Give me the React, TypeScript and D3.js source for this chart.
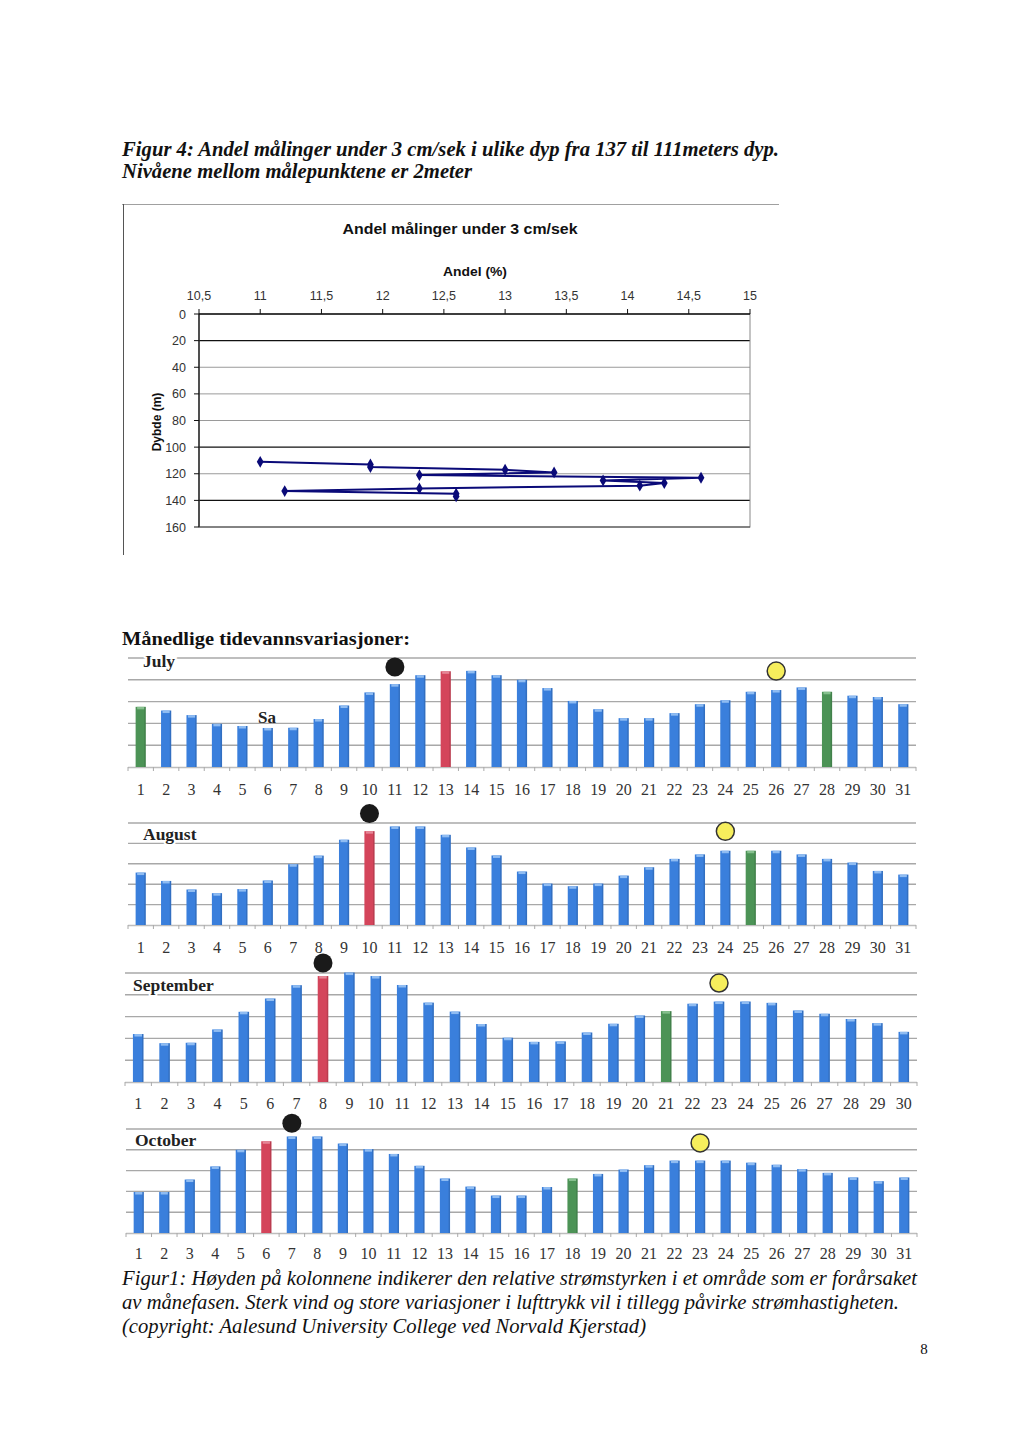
import React from "react";
import * as d3 from "d3";

// ---------- Figure 4 data ----------
const depthLevels = [111, 113, 115, 117, 119, 121, 123, 125, 127, 129, 131, 133, 135, 137];
const andelValues = [11.0, 11.9, 11.9, 13.0, 13.4, 12.3, 14.6, 13.8, 14.3, 14.1, 12.3, 11.2, 12.6, 12.6];
const xTicks = [10.5, 11, 11.5, 12, 12.5, 13, 13.5, 14, 14.5, 15];
const xTickLabels = ["10,5", "11", "11,5", "12", "12,5", "13", "13,5", "14", "14,5", "15"];
const yTicks = [0, 20, 40, 60, 80, 100, 120, 140, 160];
const darkGridLines = [20, 100, 140];

// ---------- Tide data (relative height, grid units 0..5) ----------
const julyValues = [2.76, 2.59, 2.38, 1.98, 1.88, 1.79, 1.8, 2.2, 2.82, 3.42, 3.8, 4.21, 4.39, 4.41, 4.21, 4.0, 3.62, 3.03, 2.65, 2.24, 2.24, 2.47, 2.88, 3.06, 3.45, 3.53, 3.65, 3.45, 3.27, 3.21, 2.88];
const augustValues = [2.57, 2.16, 1.74, 1.56, 1.76, 2.18, 2.98, 3.4, 4.18, 4.6, 4.83, 4.83, 4.42, 3.8, 3.41, 2.62, 2.03, 1.9, 2.03, 2.42, 2.83, 3.24, 3.46, 3.64, 3.64, 3.64, 3.46, 3.24, 3.06, 2.65, 2.47];
const septemberValues = [2.2, 1.78, 1.8, 2.41, 3.22, 3.83, 4.44, 4.86, 5.02, 4.86, 4.45, 3.64, 3.23, 2.66, 2.03, 1.84, 1.86, 2.27, 2.67, 3.05, 3.25, 3.59, 3.69, 3.69, 3.63, 3.28, 3.13, 2.89, 2.7, 2.3];
const octoberValues = [1.97, 1.97, 2.57, 3.2, 4.0, 4.41, 4.64, 4.64, 4.3, 4.03, 3.8, 3.23, 2.62, 2.23, 1.8, 1.8, 2.21, 2.62, 2.84, 3.05, 3.26, 3.48, 3.48, 3.48, 3.38, 3.28, 3.07, 2.89, 2.67, 2.49, 2.67];
const monthNames = ["July", "August", "September", "October"];
const redDays = [13, 10, 8, 6];
const greenDays = [[1, 28], [25], [21], [18]];
const blackMoonDays = [11, 10, 8, 7];
const blackMoonLevels = [4.59, 5.46, 5.46, 5.28];
const yellowMoonDays = [26, 24, 23, 23];
const yellowMoonLevels = [4.4, 4.59, 4.54, 4.33];
const gridLevels = [0, 1, 2, 3, 4, 5];

const monthValues = [julyValues, augustValues, septemberValues, octoberValues];

// layout of each panel
const panels = [
  { top: 658, base: 767, x0: 128, x1: 916, labelY: 795, nameX: 143, nameY: 667 },
  { top: 823, base: 925, x0: 128, x1: 916, labelY: 953, nameX: 143, nameY: 840 },
  { top: 973, base: 1082, x0: 125, x1: 917, labelY: 1109, nameX: 133, nameY: 991 },
  { top: 1129, base: 1233, x0: 126, x1: 917, labelY: 1259, nameX: 135, nameY: 1146 },
];

const SERIF = "'Liberation Serif', 'Times New Roman', serif";
const SANS = "'Liberation Sans', Arial, sans-serif";

function DepthChart() {
  const x = d3.scaleLinear().domain([10.5, 15]).range([199, 750]);
  const y = d3.scaleLinear().domain([0, 160]).range([314, 527]);
  const pts = depthLevels.map((d, i) => [andelValues[i], d] as [number, number]);
  const line = d3.line<[number, number]>().x((p) => x(p[0])).y((p) => y(p[1]));
  const diamond = d3.symbol().type(d3.symbolDiamond).size(40)();
  return (
    <g>
      <line x1={122} x2={779} y1={204.5} y2={204.5} stroke="#a0a0a0" strokeWidth={1} />
      <line x1={123.5} x2={123.5} y1={204} y2={555} stroke="#555" strokeWidth={1} />
      <text x={460} y={234} textAnchor="middle" fontFamily={SANS} fontWeight="bold" fontSize={15.5} fill="#111"
        textLength={235} lengthAdjust="spacingAndGlyphs">
        Andel målinger under 3 cm/sek
      </text>
      <text x={475} y={275.5} textAnchor="middle" fontFamily={SANS} fontWeight="bold" fontSize={13} fill="#111"
        textLength={64} lengthAdjust="spacingAndGlyphs">
        Andel (%)
      </text>
      <text transform="translate(161,422) rotate(-90)" textAnchor="middle" fontFamily={SANS} fontWeight="bold" fontSize={12} fill="#111">
        Dybde (m)
      </text>
      {yTicks.slice(1, -1).map((t) => (
        <line key={"g" + t} x1={199} x2={750} y1={y(t)} y2={y(t)}
          stroke={darkGridLines.includes(t) ? "#111" : "#9a9a9a"} strokeWidth={darkGridLines.includes(t) ? 1.3 : 1} />
      ))}
      <rect x={199} y={314} width={551} height={213} fill="none" stroke="#888" strokeWidth={1} />
      <line x1={199} x2={750} y1={314} y2={314} stroke="#111" strokeWidth={1.3} />
      <line x1={199} x2={199} y1={314} y2={527} stroke="#111" strokeWidth={1.3} />
      <line x1={199} x2={750} y1={527} y2={527} stroke="#444" strokeWidth={1.2} />
      {yTicks.map((t) => (
        <g key={"y" + t}>
          <line x1={194} x2={199} y1={y(t)} y2={y(t)} stroke="#111" />
          <text x={186} y={y(t) + 4.5} textAnchor="end" fontFamily={SANS} fontSize={12.5} fill="#333">{t}</text>
        </g>
      ))}
      {xTicks.map((t, i) => (
        <g key={"x" + t}>
          <line x1={x(t)} x2={x(t)} y1={309} y2={314} stroke="#111" />
          <text x={x(t)} y={299.5} textAnchor="middle" fontFamily={SANS} fontSize={12.5} fill="#333">{xTickLabels[i]}</text>
        </g>
      ))}
      <path d={line(pts) || ""} fill="none" stroke="#0a0a78" strokeWidth={2} />
      {pts.map((p, i) => (
        <path key={"m" + i} d={diamond || ""} transform={`translate(${x(p[0])},${y(p[1])})`} fill="#0a0a78" />
      ))}
    </g>
  );
}

function MonthPanel({ idx }: { idx: number }) {
  const p = panels[idx];
  const values = monthValues[idx];
  const days = values.map((_, i) => i + 1);
  const xb = d3.scaleBand<number>().domain(days).range([p.x0, p.x1]).paddingInner(0.6).paddingOuter(0.3);
  const yv = d3.scaleLinear().domain([0, 5]).range([p.base, p.top]);
  const step = xb.step();
  const bw = xb.bandwidth();
  const colorFor = (d: number) =>
    d === redDays[idx] ? "#d4455b" : greenDays[idx].includes(d) ? "#4c9356" : "#3a7fdc";
  const capFor = (d: number) =>
    d === redDays[idx] ? "#e58797" : greenDays[idx].includes(d) ? "#86c08e" : "#8fbcf2";
  const cx = (d: number) => (xb(d) as number) + bw / 2;
  return (
    <g>
      {gridLevels.slice(1).map((g) => (
        <line key={g} x1={p.x0} x2={p.x1} y1={yv(g)} y2={yv(g)} stroke="#a8a8a8" strokeWidth={1.4} />
      ))}
      <line x1={p.x0} x2={p.x1} y1={p.base + 0.5} y2={p.base + 0.5} stroke="#bdbdbd" strokeWidth={1.4} />
      {days.map((d) => (
        <line key={"t" + d} x1={(xb(d) as number) - (step - bw) / 2} x2={(xb(d) as number) - (step - bw) / 2}
          y1={p.base} y2={p.base + 4} stroke="#aaa" />
      ))}
      <line x1={p.x1} x2={p.x1} y1={p.base} y2={p.base + 4} stroke="#aaa" />
      {days.map((d, i) => (
        <g key={"b" + d}>
          <rect x={xb(d)} y={yv(values[i])} width={bw} height={p.base - yv(values[i])} fill={colorFor(d)} />
          <rect x={(xb(d) as number) + 1.5} y={yv(values[i])} width={bw - 3} height={2.5} fill={capFor(d)} />
          <rect x={(xb(d) as number) + bw - 1.5} y={yv(values[i])} width={1.5} height={p.base - yv(values[i])} fill="#000" opacity={0.12} />
        </g>
      ))}
      {days.map((d) => (
        <text key={"l" + d} x={cx(d)} y={p.labelY} textAnchor="middle" fontFamily={SERIF} fontSize={16} fill="#333">{d}</text>
      ))}
      <text x={p.nameX} y={p.nameY} fontFamily={SERIF} fontWeight="bold" fontSize={17.5} fill="#222"
        stroke="#fff" strokeWidth={4} paintOrder="stroke">{monthNames[idx]}</text>
      <circle cx={cx(blackMoonDays[idx])} cy={yv(blackMoonLevels[idx])} r={9.5} fill="#1a1a1a" />
      <circle cx={cx(yellowMoonDays[idx])} cy={yv(yellowMoonLevels[idx])} r={9} fill="#f6ee5c" stroke="#333" strokeWidth={1.5} />
    </g>
  );
}

export default function App() {
  return (
    <svg width={1024} height={1448} style={{ position: "absolute", left: 0, top: 0, background: "#fff" }}>
      <rect width={1024} height={1448} fill="#fff" />
      <text x={122} y={156} fontFamily={SERIF} fontWeight="bold" fontStyle="italic" fontSize={20.5} fill="#111"
        textLength={657} lengthAdjust="spacingAndGlyphs">
        Figur 4: Andel målinger under 3 cm/sek i ulike dyp fra 137 til 111meters dyp.
      </text>
      <text x={122} y={177.5} fontFamily={SERIF} fontWeight="bold" fontStyle="italic" fontSize={20.5} fill="#111"
        textLength={350} lengthAdjust="spacingAndGlyphs">
        Nivåene mellom målepunktene er 2meter
      </text>
      <DepthChart />
      <text x={122} y={645} fontFamily={SERIF} fontWeight="bold" fontSize={19.5} fill="#111"
        textLength={288} lengthAdjust="spacingAndGlyphs">
        Månedlige tidevannsvariasjoner:
      </text>
      {[0, 1, 2, 3].map((i) => (
        <MonthPanel key={i} idx={i} />
      ))}
      <text x={258} y={723} fontFamily={SERIF} fontWeight="bold" fontSize={17} fill="#222">Sa</text>
      <text x={122} y={1284.5} fontFamily={SERIF} fontStyle="italic" fontSize={20.5} fill="#111"
        textLength={795} lengthAdjust="spacingAndGlyphs">
        Figur1: Høyden på kolonnene indikerer den relative strømstyrken i et område som er forårsaket
      </text>
      <text x={122} y={1308.5} fontFamily={SERIF} fontStyle="italic" fontSize={20.5} fill="#111"
        textLength={777} lengthAdjust="spacingAndGlyphs">
        av månefasen. Sterk vind og store variasjoner i lufttrykk vil i tillegg påvirke strømhastigheten.
      </text>
      <text x={122} y={1332.5} fontFamily={SERIF} fontStyle="italic" fontSize={20.5} fill="#111"
        textLength={524} lengthAdjust="spacingAndGlyphs">
        (copyright: Aalesund University College ved Norvald Kjerstad)
      </text>
      <text x={924} y={1354} textAnchor="middle" fontFamily={SERIF} fontSize={15} fill="#111">8</text>
    </svg>
  );
}
